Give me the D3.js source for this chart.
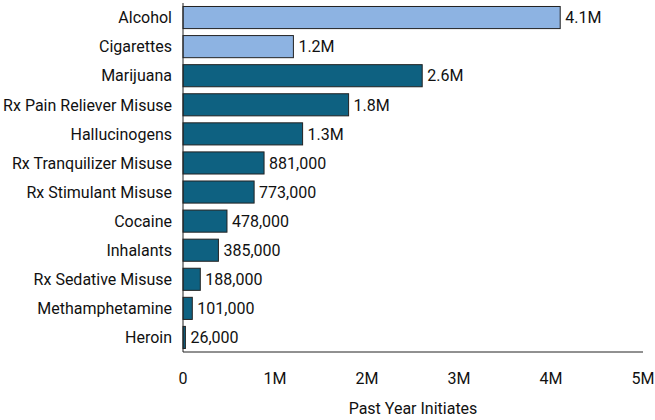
<!DOCTYPE html>
<html><head><meta charset="utf-8">
<script src="https://cdn.jsdelivr.net/npm/d3@7"></script>
<style>
body{margin:0;background:#fff}
text{font-family:"Liberation Sans Narrow","Roboto",sans-serif;fill:#111}
</style></head><body>
<svg width="655" height="420"></svg>
<script>
const categories = ["Alcohol","Cigarettes","Marijuana","Rx Pain Reliever Misuse","Hallucinogens",
  "Rx Tranquilizer Misuse","Rx Stimulant Misuse","Cocaine","Inhalants","Rx Sedative Misuse",
  "Methamphetamine","Heroin"];
const values = [4100000,1200000,2600000,1800000,1300000,881000,773000,478000,385000,188000,101000,26000];
const labels = ["4.1M","1.2M","2.6M","1.8M","1.3M","881,000","773,000","478,000","385,000","188,000","101,000","26,000"];
const ticks = [0,1000000,2000000,3000000,4000000,5000000];
const tickLabels = ["0","1M","2M","3M","4M","5M"];

const svg = d3.select("svg");
const x = d3.scaleLinear().domain([0,5000000]).range([183,643]);
const y = d3.scaleBand().domain(categories).range([3,352]).paddingInner(0.24).paddingOuter(0.12);

svg.selectAll("rect").data(categories).enter().append("rect")
  .attr("x", x(0))
  .attr("y", d => y(d))
  .attr("width", (d,i) => x(values[i]) - x(0))
  .attr("height", y.bandwidth())
  .attr("fill", (d,i) => i < 2 ? "#8db3e2" : "#0e6181")
  .attr("stroke", "#222")
  .attr("stroke-width", 1);

svg.selectAll(".val").data(categories).enter().append("text")
  .attr("x", (d,i) => x(values[i]) + 5)
  .attr("y", d => y(d) + y.bandwidth()/2)
  .attr("dy", "0.36em")
  .attr("font-size", 16)
  .text((d,i) => labels[i]);

svg.selectAll(".cat").data(categories).enter().append("text")
  .attr("x", 172)
  .attr("y", d => y(d) + y.bandwidth()/2)
  .attr("dy", "0.36em")
  .attr("text-anchor", "end")
  .attr("font-size", 16)
  .text(d => d);

svg.append("line").attr("x1",x(0)).attr("x2",x(0)).attr("y1",3).attr("y2",352).attr("stroke","#222");
svg.append("line").attr("x1",x(0)).attr("x2",643).attr("y1",352).attr("y2",352).attr("stroke","#222");

svg.selectAll(".tick").data(ticks).enter().append("text")
  .attr("x", d => x(d))
  .attr("y", 384)
  .attr("text-anchor", "middle")
  .attr("font-size", 16)
  .text((d,i) => tickLabels[i]);

svg.append("text").attr("x", 413).attr("y", 414).attr("text-anchor","middle")
  .attr("font-size",16).text("Past Year Initiates");
</script>
</body></html>
